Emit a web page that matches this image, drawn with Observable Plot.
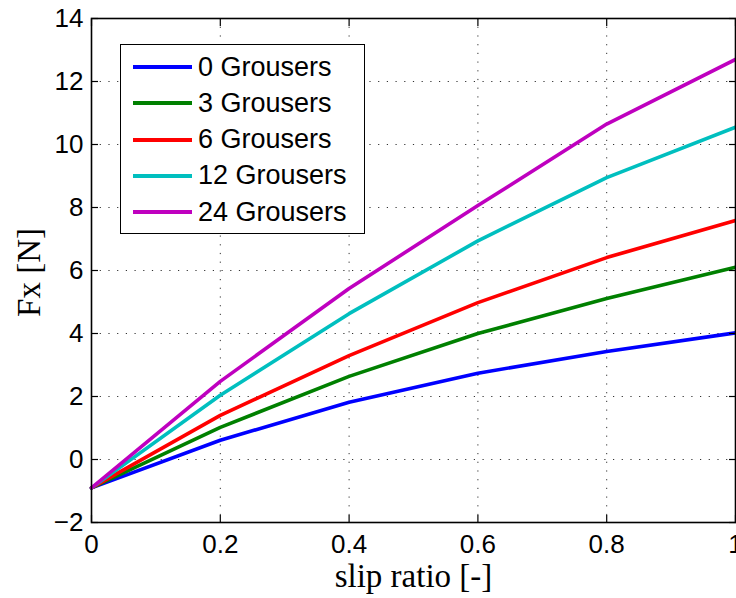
<!DOCTYPE html>
<html>
<head>
<meta charset="utf-8">
<script src="https://cdn.jsdelivr.net/npm/d3@7"></script>
<script src="https://cdn.jsdelivr.net/npm/@observablehq/plot@0.6"></script>
<style>
  html, body { margin: 0; padding: 0; background: white; overflow: hidden; }
  #wrap { position: relative; width: 736px; height: 598px; }
  #wrap svg { overflow: hidden; }
  #legend {
    position: absolute; left: 120px; top: 44px; width: 243px; height: 188px;
    border: 1.6px solid black; background: white; box-sizing: content-box;
    font-family: "Liberation Sans", Arial, sans-serif; font-size: 27px; color: black;
  }
  .row { position: absolute; left: 0; height: 36px; display: flex; align-items: center; }
  .sw { width: 59px; height: 4px; margin-left: 12px; margin-right: 6px; }
</style>
</head>
<body>
<div id="wrap"></div>
<script>
const slip = [0, 0.2, 0.4, 0.6, 0.8, 1.0];
const g0  = [-0.9, 0.61, 1.82, 2.74, 3.43, 4.02];
const g3  = [-0.9, 1.02, 2.64, 4.00, 5.11, 6.10];
const g6  = [-0.9, 1.40, 3.30, 4.98, 6.41, 7.59];
const g12 = [-0.9, 2.04, 4.63, 6.94, 8.95, 10.55];
const g24 = [-0.9, 2.48, 5.43, 8.06, 10.65, 12.70];
const seriesNames = ["0 Grousers", "3 Grousers", "6 Grousers", "12 Grousers", "24 Grousers"];
const seriesColors = ["#0000ff", "#008000", "#ff0000", "#00bfbf", "#bf00bf"];
const xTicks = [0, 0.2, 0.4, 0.6, 0.8, 1];
const yTicks = [-2, 0, 2, 4, 6, 8, 10, 12, 14];

const allSeries = [g0, g3, g6, g12, g24];
const rows = [];
allSeries.forEach((vals, i) => vals.forEach((v, j) => rows.push({series: seriesNames[i], x: slip[j], y: v})));

const font = {fontFamily: "Liberation Sans, Arial, sans-serif", fontSize: 26, fill: "black"};
const tickOpts = {tickSize: -7, text: null, label: null, strokeWidth: 1.2, stroke: "black"};
const serif = "Liberation Serif, Times New Roman, serif";

const chart = Plot.plot({
  width: 736, height: 598,
  marginLeft: 91, marginRight: 1, marginTop: 18, marginBottom: 76,
  style: {background: "white", color: "black", overflow: "hidden"},
  x: {domain: [0, 1]},
  y: {domain: [-2, 14]},
  color: {domain: seriesNames, range: seriesColors},
  marks: [
    Plot.gridX(xTicks, {stroke: "#333", strokeOpacity: 1, strokeWidth: 1, strokeDasharray: "1.2,7.5"}),
    Plot.gridY(yTicks, {stroke: "#333", strokeOpacity: 1, strokeWidth: 1, strokeDasharray: "1.2,7.5"}),
    Plot.line(rows, {x: "x", y: "y", z: "series", stroke: "series", strokeWidth: 3.6, strokeLinejoin: "round"}),
    Plot.axisX(xTicks, {anchor: "bottom", ...tickOpts}),
    Plot.axisX(xTicks, {anchor: "top", ...tickOpts}),
    Plot.axisY(yTicks, {anchor: "left", ...tickOpts}),
    Plot.axisY(yTicks, {anchor: "right", ...tickOpts}),
    Plot.axisX(xTicks, {anchor: "bottom", tickSize: 0, tickPadding: 12, label: null, tickFormat: d => String(d), ...font}),
    Plot.axisY(yTicks, {anchor: "left", tickSize: 0, tickPadding: 8, label: null, ...font}),
    Plot.frame({stroke: "black", strokeWidth: 1.6}),
    Plot.text(["slip ratio [-]"], {frameAnchor: "bottom", textAnchor: "middle", dy: 64, fontFamily: serif, fontSize: 33, fill: "black"}),
    Plot.text(["Fx [N]"], {frameAnchor: "left", textAnchor: "middle", dx: -62, dy: 2, rotate: -90, fontFamily: serif, fontSize: 33, fill: "black"})
  ]
});
const wrap = document.getElementById("wrap");
wrap.appendChild(chart);

const legend = document.createElement("div");
legend.id = "legend";
seriesNames.forEach((name, i) => {
  const row = document.createElement("div");
  row.className = "row";
  row.style.top = (4 + i * 36.3) + "px";
  const sw = document.createElement("div");
  sw.className = "sw";
  sw.style.background = seriesColors[i];
  const t = document.createElement("span");
  t.textContent = name;
  row.appendChild(sw);
  row.appendChild(t);
  legend.appendChild(row);
});
wrap.appendChild(legend);
</script>
</body>
</html>
